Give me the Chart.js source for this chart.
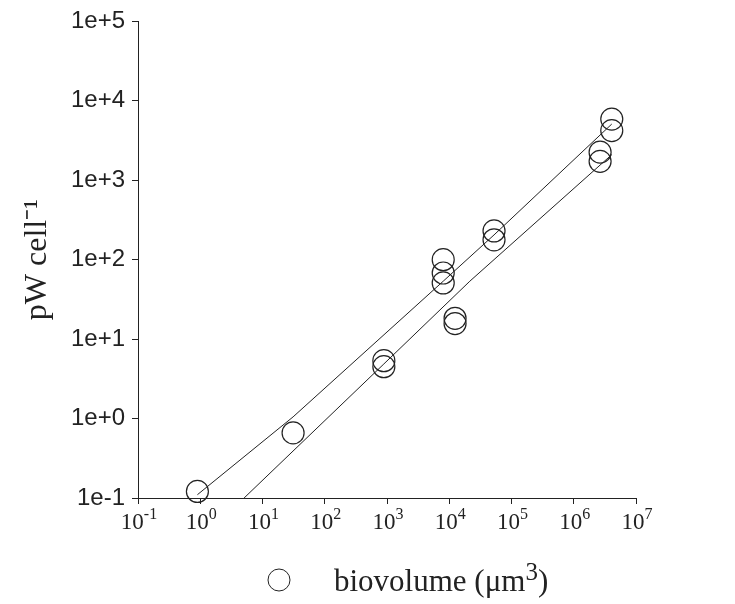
<!DOCTYPE html>
<html>
<head>
<meta charset="UTF-8">
<title>biovolume</title>
<script src="https://cdn.jsdelivr.net/npm/chart.js"></script>
<style>
  body { margin: 0; background: #fff; }
</style>
</head>
<body>
<canvas id="grafico" width="735" height="604"></canvas>
<script>
// valores
const volume = [0.9, 31, 890, 890, 8000, 8000, 8000, 12400, 12400, 52400, 52400, 2650000, 2650000, 4080000, 4080000];
const potencia = [0.121, 0.66, 5.35, 4.5, 100, 68, 51, 18.3, 15.7, 230, 178, 2260, 1730, 5890, 4220];

// retas de ajuste
const ajuste1X = [0.9, 31, 8000, 52400, 4080000];
const ajuste1Y = [0.11, 1.05, 53.6, 205, 5100];
const ajuste2X = [5.06, 890, 21400, 4080000];
const ajuste2Y = [0.1, 4.87, 53.6, 2100];

const xTicks = [0.1, 1, 10, 100, 1e3, 1e4, 1e5, 1e6, 1e7];
const xExpoentes = ['-1', '0', '1', '2', '3', '4', '5', '6', '7'];
const yTicks = [0.1, 1, 10, 100, 1e3, 1e4, 1e5];
const yTickLabels = ['1e-1', '1e+0', '1e+1', '1e+2', '1e+3', '1e+4', '1e+5'];
const legenda = 'biovolume (μm';

const pontos = (xs, ys) => xs.map((x, i) => ({x: x, y: ys[i]}));

const cor = '#222';
const serif = '"Liberation Serif", "Times New Roman", Times, serif';
const sans = '"Liberation Sans", Arial, Helvetica, sans-serif';

// rotulos 10^n com expoente de verdade
const rotulosX = {
    id: 'rotulosX',
    afterDraw(chart) {
        const c = chart.ctx;
        const sx = chart.scales.x;
        c.save();
        c.fillStyle = cor;
        c.textBaseline = 'alphabetic';
        xTicks.forEach((v, i) => {
            const px = sx.getPixelForValue(v);
            c.font = '23px ' + serif;
            const wb = c.measureText('10').width;
            c.font = '16px ' + serif;
            const we = c.measureText(xExpoentes[i]).width;
            const x0 = px - (wb + we) / 2 + 1;
            c.font = '23px ' + serif;
            c.fillText('10', x0, sx.top + 31);
            c.font = '16px ' + serif;
            c.fillText(xExpoentes[i], x0 + wb, sx.top + 21);
        });
        c.restore();
    }
};

const legendaPlugin = {
    id: 'legendaPlugin',
    afterDraw(chart) {
        const c = chart.ctx;
        c.save();
        c.strokeStyle = cor;
        c.lineWidth = 1;
        c.beginPath();
        c.arc(279, 580, 11, 0, Math.PI * 2);
        c.stroke();
        c.fillStyle = cor;
        c.textBaseline = 'alphabetic';
        c.font = '31px ' + serif;
        c.fillText(legenda, 334, 591);
        let w = c.measureText(legenda).width;
        c.font = '25px ' + serif;
        c.fillText('3', 334 + w, 580);
        let w2 = c.measureText('3').width;
        c.font = '31px ' + serif;
        c.fillText(')', 334 + w + w2, 591);
        c.restore();
    }
};

const ctx = document.getElementById('grafico');

new Chart(ctx, {
    type: 'scatter',
    data: {
        datasets: [{
            label: 'biovolume',
            data: pontos(volume, potencia),
            pointRadius: 11,
            pointHoverRadius: 11,
            borderWidth: 1.2,
            borderColor: cor,
            backgroundColor: 'transparent',
            clip: false
        }, {
            label: 'ajuste1',
            data: pontos(ajuste1X, ajuste1Y),
            showLine: true,
            pointRadius: 0,
            borderWidth: 1,
            borderColor: cor
        }, {
            label: 'ajuste2',
            data: pontos(ajuste2X, ajuste2Y),
            showLine: true,
            pointRadius: 0,
            borderWidth: 1,
            borderColor: cor
        }]
    },
    options: {
        responsive: false,
        animation: false,
        devicePixelRatio: 1,
        layout: { padding: { top: 18, right: 99, left: 0, bottom: 0 } },
        plugins: {
            legend: { display: false },
            tooltip: { enabled: false }
        },
        scales: {
            x: {
                type: 'logarithmic',
                min: 0.1,
                max: 1e7,
                afterBuildTicks: s => { s.ticks = xTicks.map(v => ({value: v})); },
                afterFit: s => { s.height = 106; },
                ticks: { display: false },
                grid: { drawOnChartArea: false, tickLength: 6, color: cor },
                border: { color: cor, width: 1 }
            },
            y: {
                type: 'logarithmic',
                min: 0.1,
                max: 1e5,
                afterBuildTicks: s => { s.ticks = yTicks.map(v => ({value: v})); },
                afterFit: s => { s.width = 138; },
                ticks: {
                    callback: (v, i) => yTickLabels[i],
                    color: cor,
                    padding: 7,
                    autoSkip: false,
                    font: { family: sans, size: 24 }
                },
                grid: { drawOnChartArea: false, tickLength: 6, color: cor },
                border: { color: cor, width: 1 },
                title: {
                    display: true,
                    text: 'pW cell⁻¹',
                    color: cor,
                    padding: { top: 18, bottom: 0 },
                    font: { family: serif, size: 32 }
                }
            }
        }
    },
    plugins: [rotulosX, legendaPlugin]
});
</script>
</body>
</html>
